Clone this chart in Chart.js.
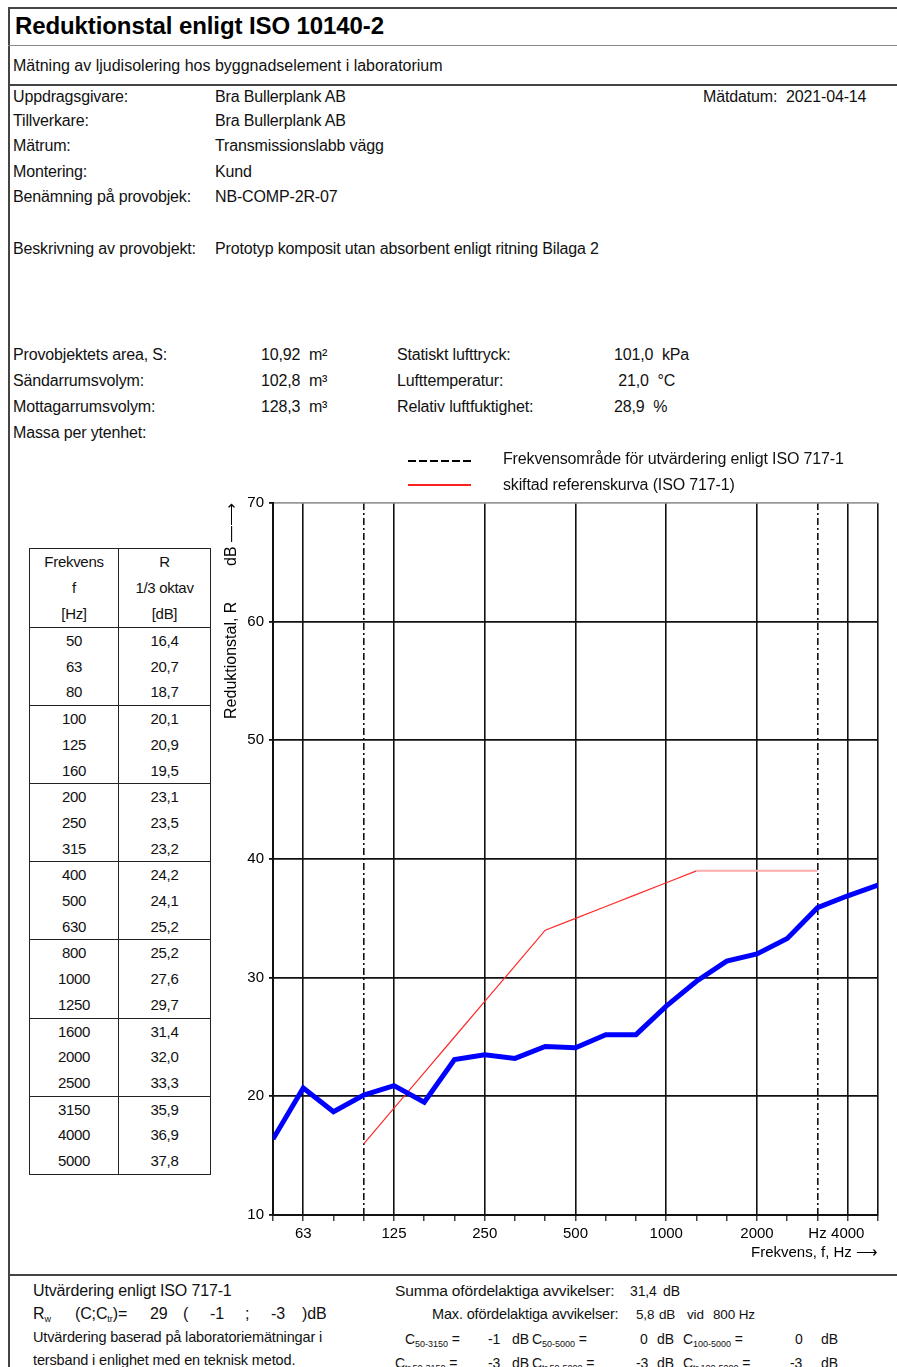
<!DOCTYPE html>
<html>
<head>
<meta charset="utf-8">
<script src="https://cdn.jsdelivr.net/npm/chart.js@4.4.1/dist/chart.umd.min.js"></script>
<style>
  html, body { margin: 0; padding: 0; background: #fff; }
  #page { position: relative; width: 897px; height: 1367px; overflow: hidden; background: #fff;
          font-family: 'Liberation Sans', Arial, sans-serif; color: #111; }
  .t { position: absolute; white-space: nowrap; line-height: 1.2; letter-spacing: -0.15px; }
  .ln { position: absolute; background: #333; }
  #tbl { position: absolute; left: 29px; top: 548px; width: 182px; border-collapse: collapse;
         font-size: 15px; letter-spacing: -0.3px; color: #111; }
  #tbl td { border: 1.5px solid #222; text-align: center; padding: 0; line-height: 25.7px; vertical-align: middle; }
  #chartBox { position: absolute; left: 220px; top: 488px; width: 670px; height: 774px; }
  sub { font-size: 9px; vertical-align: -3px; letter-spacing: 0; }
</style>
</head>
<body>
<div id="page">
  <div id="chartBox"><canvas id="myChart" width="670" height="774"></canvas></div>
</div>
<script>
// 1/3 octave bands 50..5000 Hz
var bandHz = [50, 63, 80, 100, 125, 160, 200, 250, 315, 400, 500, 630, 800, 1000, 1250, 1600, 2000, 2500, 3150, 4000, 5000];
var rValues = [16.4, 20.7, 18.7, 20.1, 20.9, 19.5, 23.1, 23.5, 23.2, 24.2, 24.1, 25.2, 25.2, 27.6, 29.7, 31.4, 32.0, 33.3, 35.9, 36.9, 37.8];
// shifted reference curve as drawn, 100..3150 Hz
var refHz = [100, 125, 160, 200, 250, 315, 400, 500, 630, 800, 1000, 1250, 1600, 2000, 2500, 3150];
var refValues = [16, 19, 22, 25, 28, 31, 34, 35, 36, 37, 38, 39, 39, 39, 39, 39];
var xTickLabels = { 63: '63', 125: '125', 250: '250', 500: '500', 1000: '1000', 2000: '2000', 3150: 'Hz', 4000: '4000' };
var majorHz = [63, 125, 250, 500, 1000, 2000, 4000, 5000];
var evalHz = [100, 3150];

var FONT = "'Liberation Sans', Arial, sans-serif";
var page = document.getElementById('page');

function put(x, y, s, size, extra) {
  size = size || 16;
  var d = document.createElement('div');
  d.className = 't';
  d.style.left = x + 'px';
  d.style.top = (y - size * 0.6) + 'px';
  d.style.fontSize = size + 'px';
  if (extra) d.style.cssText += extra;
  d.innerHTML = s;
  page.appendChild(d);
}
function line(x, y, w, h, col) {
  var d = document.createElement('div');
  d.className = 'ln';
  d.style.left = x + 'px'; d.style.top = y + 'px';
  d.style.width = w + 'px'; d.style.height = h + 'px';
  if (col) d.style.background = col;
  page.appendChild(d);
}

// frame
line(8, 7, 889, 2, '#444');
line(8, 7, 2, 1360, '#444');
line(8, 45, 889, 1, '#888');
line(8, 84, 889, 2, '#444');
line(8, 1274, 889, 2, '#444');

put(15, 26, 'Reduktionstal enligt ISO 10140-2', 24, 'font-weight:bold;letter-spacing:-0.1px;color:#000;');
put(13, 66, 'Mätning av ljudisolering hos byggnadselement i laboratorium', 16, 'letter-spacing:0;');

var rows = [
  [97, 'Uppdragsgivare:', 'Bra Bullerplank AB'],
  [121, 'Tillverkare:', 'Bra Bullerplank AB'],
  [146, 'Mätrum:', 'Transmissionslabb vägg'],
  [172, 'Montering:', 'Kund'],
  [197, 'Benämning på provobjek:', 'NB-COMP-2R-07'],
  [249, 'Beskrivning av provobjekt:', 'Prototyp komposit utan absorbent enligt ritning Bilaga 2']
];
rows.forEach(function (r) { put(13, r[0], r[1]); put(215, r[0], r[2]); });
put(703, 97, 'Mätdatum:');
put(786, 97, '2021-04-14');

var cond = [
  [355, 'Provobjektets area, S:', '10,92&nbsp; m²', 'Statiskt lufttryck:', '101,0&nbsp; kPa'],
  [381, 'Sändarrumsvolym:', '102,8&nbsp; m³', 'Lufttemperatur:', '&nbsp;21,0&nbsp; °C'],
  [407, 'Mottagarrumsvolym:', '128,3&nbsp; m³', 'Relativ luftfuktighet:', '28,9&nbsp; %']
];
cond.forEach(function (r) { put(13, r[0], r[1]); put(261, r[0], r[2]); put(397, r[0], r[3]); put(614, r[0], r[4]); });
put(13, 433, 'Massa per ytenhet:');

// legend
var dl = document.createElement('div');
dl.style.cssText = 'position:absolute;left:408px;top:460px;width:64px;height:2px;' +
  'background:repeating-linear-gradient(90deg,#000 0,#000 8px,transparent 8px,transparent 11px);';
page.appendChild(dl);
line(408, 484, 63, 1.5, '#ff2020');
put(503, 459, 'Frekvensområde för utvärdering enligt ISO 717-1');
put(503, 485, 'skiftad referenskurva (ISO 717-1)');

// table
var tbl = document.createElement('table');
tbl.id = 'tbl';
var html = '<tr style="height:79px"><td style="width:88px">Frekvens<br>f<br>[Hz]</td><td>R<br>1/3 oktav<br>[dB]</td></tr>';
for (var g = 0; g < 7; g++) {
  var c1 = [], c2 = [];
  for (var k = 0; k < 3; k++) {
    c1.push(bandHz[g * 3 + k]);
    c2.push(rValues[g * 3 + k].toFixed(1).replace('.', ','));
  }
  html += '<tr style="height:77px"><td>' + c1.join('<br>') + '</td><td>' + c2.join('<br>') + '</td></tr>';
}
tbl.innerHTML = html;
page.appendChild(tbl);

// bottom evaluation text
put(33, 1291, 'Utvärdering enligt ISO 717-1');
put(33, 1314, 'R<sub>w</sub>', 16);
put(75, 1314, '(C;C<sub>tr</sub>)=', 16);
put(150, 1314, '29', 16);
put(183, 1314, '(', 16);
put(210, 1314, '-1', 16);
put(245, 1314, ';', 16);
put(271, 1314, '-3', 16);
put(302, 1314, ')dB', 16);
put(33, 1338, 'Utvärdering baserad på laboratoriemätningar i', 14.5);
put(33, 1361, 'tersband i enlighet med en teknisk metod.', 14.5);

put(395, 1291, 'Summa ofördelaktiga avvikelser:', 15.5);
put(630, 1291, '31,4', 14);
put(663, 1291, 'dB', 14);
put(432, 1315, 'Max. ofördelaktiga avvikelser:', 14.5);
put(636, 1315, '5,8', 13.5);
put(659, 1315, 'dB', 13.5);
put(687, 1315, 'vid', 13.5);
put(713, 1315, '800 Hz', 13.5);

put(405, 1339, 'C<sub>50-3150</sub> =', 14);
put(488, 1339, '-1', 14); put(512, 1339, 'dB', 14);
put(532, 1339, 'C<sub>50-5000</sub> =', 14);
put(640, 1339, '0', 14); put(657, 1339, 'dB', 14);
put(683, 1339, 'C<sub>100-5000</sub> =', 14);
put(795, 1339, '0', 14); put(821, 1339, 'dB', 14);
put(395, 1363, 'C<sub>tr,50-3150</sub> =', 14);
put(488, 1363, '-3', 14); put(512, 1363, 'dB', 14);
put(532, 1363, 'C<sub>tr,50-5000</sub> =', 14);
put(636, 1363, '-3', 14); put(657, 1363, 'dB', 14);
put(683, 1363, 'C<sub>tr,100-5000</sub> =', 14);
put(790, 1363, '-3', 14); put(821, 1363, 'dB', 14);

// chart
function idx(f) { return bandHz.indexOf(f); }
var measured = bandHz.map(function (f, i) { return { x: i, y: rValues[i] }; });
var reference = refHz.map(function (f, i) { return { x: idx(f), y: refValues[i] }; });
var majorIdx = majorHz.map(idx);
var evalIdx = evalHz.map(idx);

var ctx = document.getElementById('myChart');
var myChart = new Chart(ctx, {
  type: 'line',
  data: {
    datasets: [{
      label: 'R',
      data: measured,
      borderColor: '#0000ff',
      borderWidth: 5,
      pointRadius: 0,
      tension: 0,
      order: 1
    }, {
      label: 'skiftad referenskurva (ISO 717-1)',
      data: reference,
      borderColor: '#ff2a2a',
      borderWidth: 1.2,
      pointRadius: 0,
      tension: 0,
      order: 2,
      segment: {
        borderColor: function (c) { return c.p0.parsed.y === c.p1.parsed.y ? '#ffaaaa' : '#ff2a2a'; },
        borderWidth: function (c) { return c.p0.parsed.y === c.p1.parsed.y ? 2 : 1.2; }
      }
    }]
  },
  options: {
    responsive: false,
    animation: false,
    layout: { padding: { top: 15, right: 12, left: 0, bottom: 0 } },
    plugins: { legend: { display: false }, tooltip: { enabled: false } },
    scales: {
      x: {
        type: 'linear',
        min: 0,
        max: 20,
        afterFit: function (s) { s.height = 47; },
        afterBuildTicks: function (s) { s.ticks = bandHz.map(function (f, i) { return { value: i }; }); },
        ticks: {
          autoSkip: false,
          maxRotation: 0,
          padding: 4,
          color: '#000',
          font: { family: FONT, size: 15 },
          callback: function (v) { return xTickLabels[bandHz[v]] || ''; }
        },
        grid: {
          color: function (c) {
            var v = c.tick ? c.tick.value : -1;
            return (majorIdx.indexOf(v) >= 0 || evalIdx.indexOf(v) >= 0) ? '#111' : 'rgba(0,0,0,0)';
          },
          lineWidth: 1.6,
          tickColor: '#111',
          tickLength: 6,
          tickWidth: 1.2
        },
        border: {
          color: '#111',
          width: 2,
          dash: function (c) { return (c.tick && evalIdx.indexOf(c.tick.value) >= 0) ? [7, 3, 2, 3] : []; }
        },
        title: {
          display: true,
          text: 'Frekvens, f, Hz \u27F6',
          align: 'end',
          color: '#000',
          font: { family: FONT, size: 15 },
          padding: { top: 0, bottom: 0 }
        }
      },
      y: {
        min: 10,
        max: 70,
        afterFit: function (s) { s.width = 53; },
        ticks: { stepSize: 10, color: '#000', padding: 5, font: { family: FONT, size: 15 } },
        grid: {
          color: function (c) { return (c.tick && c.tick.value === 70) ? '#999' : '#111'; },
          lineWidth: 1.8,
          tickColor: '#111',
          tickLength: 4
        },
        border: { color: '#111', width: 2 },
        title: {
          display: true,
          text: 'Reduktionstal, R        dB \u2014\u27F6',
          align: 'end',
          color: '#000',
          font: { family: FONT, size: 16 },
          padding: { top: 2, bottom: 0 }
        }
      }
    }
  }
});
</script>
</body>
</html>
